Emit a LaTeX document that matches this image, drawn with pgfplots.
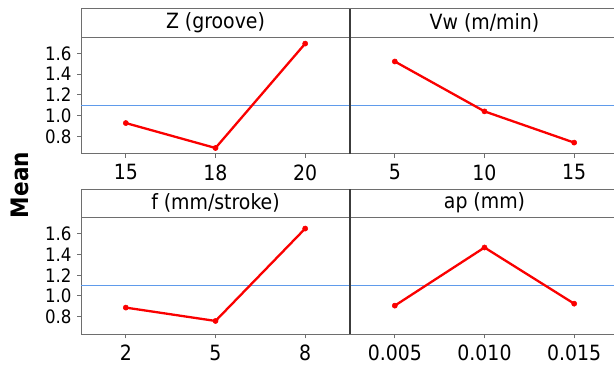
\documentclass[border=0pt]{standalone}
\usepackage{fontspec}
\setmainfont{DejaVu Sans Condensed}
\usepackage{pgfplots}
\pgfplotsset{compat=1.18}
\definecolor{redline}{RGB}{250,0,0}
\definecolor{refblue}{RGB}{95,155,235}
\definecolor{framegray}{RGB}{110,110,110}
\definecolor{divgray}{RGB}{60,60,60}
\pgfplotsset{
  panel/.style={
    scale only axis, width=269pt, height=116.7pt,
    xmin=-0.5, xmax=2.5, ymin=0.629, ymax=1.757,
    xtick={0,1,2},
    axis x line*=bottom, axis y line*=left,
    x axis line style={-}, y axis line style={-},
    axis line style={framegray, line width=1pt},
    tick style={framegray, line width=1pt},
    tick align=outside, major tick length=4pt,
    xtick pos=bottom, ytick pos=left,
    ytick={0.8,1.0,1.2,1.4,1.6},
    /pgf/number format/fixed, /pgf/number format/fixed zerofill,
    /pgf/number format/precision=1, /pgf/number format/assume math mode=true,
    yticklabel style={font=\fontsize{18.5}{20}\selectfont, xshift=-2pt},
    xticklabel style={font=\fontsize{21}{24}\selectfont, yshift=-3pt},
    clip=false,
  },
  rightpanel/.style={panel, ytick=\empty},
  effect/.style={redline, line width=2.3pt, mark=*, mark size=2.6pt, mark options={fill=redline, draw=redline, line width=0.5pt}},
}
\begin{document}
\begin{tikzpicture}
\useasboundingbox (0pt,0pt) rectangle (614pt,367pt);
\clip (0pt,0pt) rectangle (614pt,367pt);
% top-left
\begin{axis}[panel, at={(81pt,213pt)}, anchor=south west, name=Z, xticklabels={15,18,20}]
\addplot[color=refblue, line width=1.5pt, forget plot] coordinates {(-0.5,1.10) (2.5,1.10)};
\addplot[effect] coordinates {(0,0.928) (1,0.687) (2,1.696)};
\end{axis}
% top-right
\begin{axis}[rightpanel, at={(350pt,213pt)}, anchor=south west, name=V, xticklabels={5,10,15}]
\addplot[color=refblue, line width=1.5pt, forget plot] coordinates {(-0.5,1.10) (2.5,1.10)};
\addplot[effect] coordinates {(0,1.523) (1,1.041) (2,0.739)};
\end{axis}
% bottom-left
\begin{axis}[panel, at={(81pt,32.7pt)}, anchor=south west, name=F, xticklabels={2,5,8}]
\addplot[color=refblue, line width=1.5pt, forget plot] coordinates {(-0.5,1.10) (2.5,1.10)};
\addplot[effect] coordinates {(0,0.887) (1,0.758) (2,1.651)};
\end{axis}
% bottom-right
\begin{axis}[rightpanel, at={(350pt,32.7pt)}, anchor=south west, name=A, xticklabels={0.005,0.010,0.015}]
\addplot[color=refblue, line width=1.5pt, forget plot] coordinates {(-0.5,1.10) (2.5,1.10)};
\addplot[effect] coordinates {(0,0.906) (1,1.468) (2,0.925)};
\end{axis}
% header strips (top and bottom lines) and titles
\foreach \p/\t in {Z/{Z (groove)}, V/{Vw (m/min)}, F/{f (mm/stroke)}, A/{ap (mm)}}{
  \draw[framegray, line width=1pt] (\p.north west) -- (\p.north east);
  \draw[framegray, line width=1pt] ([yshift=28.3pt]\p.north west) -- ([yshift=28.3pt]\p.north east);
  \node[font=\fontsize{21}{24}\selectfont] at ([yshift=14.6pt]\p.north) {\t};
}
% left outer borders through header
\draw[framegray, line width=1pt] (Z.north west) -- ([yshift=28.3pt]Z.north west);
\draw[framegray, line width=1pt] (F.north west) -- ([yshift=28.3pt]F.north west);
% dividers
\draw[divgray, line width=1.3pt] (V.south west) -- ([yshift=28.3pt]V.north west);
\draw[divgray, line width=1.3pt] (A.south west) -- ([yshift=28.3pt]A.north west);
% y label
\node[rotate=90, font=\bfseries\fontsize{24}{26}\selectfont] at (20pt,182pt) {Mean};
\end{tikzpicture}
\end{document}
